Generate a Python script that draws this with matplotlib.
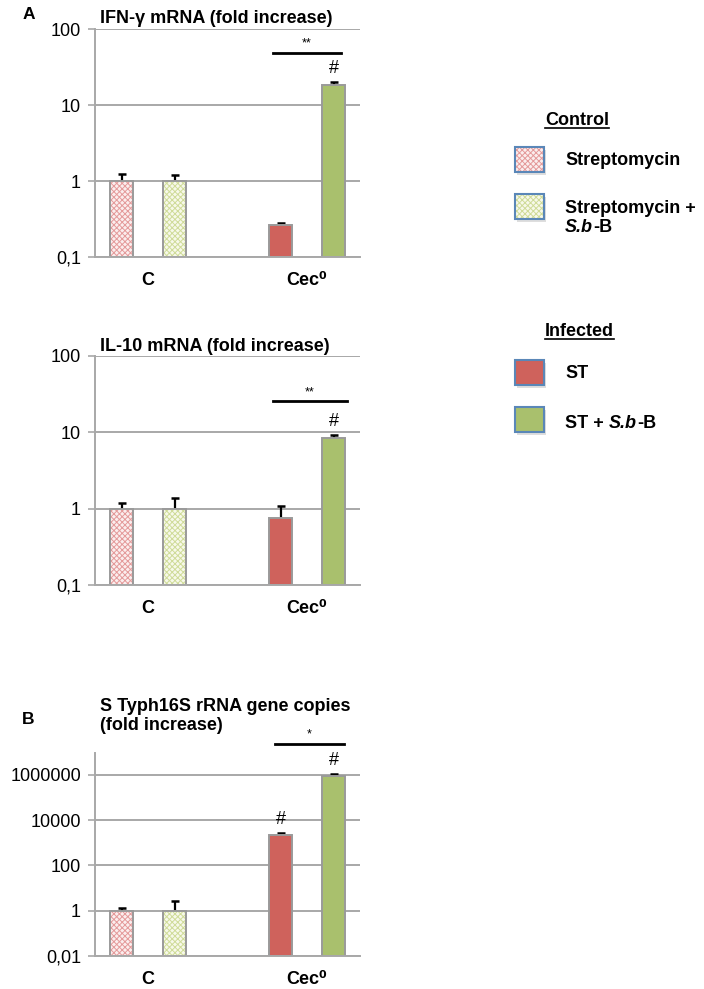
import numpy as np
import matplotlib.pyplot as plt
from matplotlib.patches import Rectangle
from matplotlib.lines import Line2D
from matplotlib.ticker import FixedLocator, FixedFormatter, NullLocator

plt.rcParams['font.family'] = ['Liberation Sans', 'DejaVu Sans']
plt.rcParams['hatch.linewidth'] = 0.7

W, H = 704, 989

# data
groups = ['C', 'Cec⁰']
series = ['Streptomycin', 'Streptomycin + S.b-B', 'ST', 'ST + S.b-B']
positions = [0, 1, 3, 4]

ifn_vals = [1.0, 1.0, 0.26, 18.3]
ifn_err = [0.23, 0.20, 0.02, 1.7]
il10_vals = [1.0, 1.0, 0.75, 8.5]
il10_err = [0.19, 0.38, 0.33, 0.75]
st_vals = [1.0, 1.0, 2180, 9.0e5]
st_err = [0.35, 1.76, 500, 2.0e5]

ifn_ticks = [0.1, 1, 10, 100]
ifn_ticklabels = ['0,1', '1', '10', '100']
st_ticks = [0.01, 1, 100, 10000, 1000000]
st_ticklabels = ['0,01', '1', '100', '10000', '1000000']

stars = ['**', '**', '*']
hash_bars = [[3], [3], [2, 3]]

# styles
red = '#cf625c'
green = '#a9c06d'
pink_fill = '#fbeeee'
lime_fill = '#f7f9ea'
pink_hatch = '#e49a9a'
lime_hatch = '#cfdb98'
edge_gray = '#9a9a9a'
grid_gray = '#a8a8a8'
legend_blue = '#5a87b8'
HATCH = 'xxxxxx'


def fx(x):
    return x / W


def fy(y):
    return 1 - y / H


fig = plt.figure(figsize=(W / 100, H / 100), dpi=100)


def draw_panel(rect, vals, errs, ticks, ticklabels, ylim, star, hashes,
               sig_x, sig_y, star_y):
    ax = fig.add_axes(rect)
    ax.set_yscale('log')
    ax.set_xlim(-0.5, 4.5)
    ax.set_ylim(*ylim)
    ax.set_axisbelow(True)

    fills = [pink_fill, lime_fill, red, green]
    hatches = [HATCH, HATCH, None, None]
    hcols = [pink_hatch, lime_hatch, red, green]
    for p, v, fc, hc, hcol in zip(positions, vals, fills, hatches, hcols):
        ax.bar(p, v - ylim[0], bottom=ylim[0], width=0.42, color=fc,
               hatch=hc, edgecolor=hcol, linewidth=0, zorder=2)
        ax.bar(p, v - ylim[0], bottom=ylim[0], width=0.42, color='none',
               edgecolor=edge_gray, linewidth=1.4, zorder=2.2)

    _, caps, _ = ax.errorbar(positions, vals,
                             yerr=[np.zeros(len(vals)), errs],
                             fmt='none', ecolor='black', elinewidth=1.6,
                             capsize=3, capthick=1.8, zorder=1.8)
    for c in caps:
        if np.allclose(c.get_ydata(), vals):
            c.set_visible(False)

    ax.yaxis.set_major_locator(FixedLocator(ticks))
    ax.yaxis.set_major_formatter(FixedFormatter(ticklabels))
    ax.yaxis.set_minor_locator(NullLocator())
    ax.tick_params(axis='y', length=5, width=1.2, color=grid_gray,
                   labelsize=13, pad=5)
    ax.grid(axis='y', color=grid_gray, linewidth=1.4)

    ax.set_xticks([0.5, 3.5])
    ax.set_xticklabels(groups, fontsize=13, fontweight='bold')
    ax.tick_params(axis='x', length=0, pad=11)

    for s in ['top', 'right']:
        ax.spines[s].set_visible(False)
    for s in ['left', 'bottom']:
        ax.spines[s].set_color(grid_gray)
        ax.spines[s].set_linewidth(1.4)

    trans = ax.get_xaxis_transform()
    ax.add_line(Line2D(sig_x, [sig_y, sig_y], color='black', linewidth=2,
                       transform=trans, clip_on=False))
    ax.text(np.mean(sig_x), star_y, star, transform=trans, ha='center',
            va='center', fontsize=9, clip_on=False)
    for i in hashes:
        ax.annotate('#', (positions[i], vals[i] + errs[i]),
                    xytext=(0, 10), textcoords='offset points',
                    ha='center', va='center', fontsize=13)
    return ax


draw_panel([fx(95), fy(257), 265 / W, 228 / H], ifn_vals, ifn_err,
           ifn_ticks, ifn_ticklabels, (0.1, 100), stars[0], hash_bars[0],
           [2.85, 4.15], 0.895, 0.935)
draw_panel([fx(95), fy(585), 265 / W, 229 / H], il10_vals, il10_err,
           ifn_ticks, ifn_ticklabels, (0.1, 100), stars[1], hash_bars[1],
           [2.85, 4.26], 0.803, 0.84)
draw_panel([fx(95), fy(956), 265 / W, 203 / H], st_vals, st_err,
           st_ticks, st_ticklabels, (0.01, 9.3e6), stars[2], hash_bars[2],
           [2.9, 4.2], 1.044, 1.09)

# titles and panel letters
fig.text(fx(100), fy(23), 'IFN-γ mRNA (fold increase)', fontsize=13,
         fontweight='bold', va='baseline')
fig.text(fx(100), fy(351), 'IL-10 mRNA (fold increase)', fontsize=13,
         fontweight='bold', va='baseline')
fig.text(fx(100), fy(711), 'S Typh16S rRNA gene copies', fontsize=13,
         fontweight='bold', va='baseline')
fig.text(fx(100), fy(730), '(fold increase)', fontsize=13,
         fontweight='bold', va='baseline')
fig.text(fx(23), fy(19), 'A', fontsize=12.5, fontweight='bold', va='baseline')
fig.text(fx(22), fy(724), 'B', fontsize=12.5, fontweight='bold', va='baseline')

# legend
renderer = fig.canvas.get_renderer()


def rich_text(x, y, pieces):
    for s, style in pieces:
        t = fig.text(fx(x), fy(y), s, fontsize=13, fontweight='bold',
                     fontstyle=style, va='baseline', ha='left')
        x += t.get_window_extent(renderer).width


def heading(x, y, s):
    t = fig.text(fx(x), fy(y), s, fontsize=13, fontweight='bold',
                 va='baseline', ha='left')
    w = t.get_window_extent(renderer).width
    fig.add_artist(Line2D([fx(x), fx(x + w)], [fy(y + 3), fy(y + 3)],
                          color='black', linewidth=1.2))


def swatch(y_top, fc, hatch=None, hcol=None):
    x0, w, h = 515, 29, 25
    fig.add_artist(Rectangle((fx(x0 + 2), fy(y_top + h + 3)), w / W, h / H,
                             facecolor='#c8c8c8', edgecolor='none', alpha=0.6))
    fig.add_artist(Rectangle((fx(x0), fy(y_top + h)), w / W, h / H,
                             facecolor=fc, hatch=hatch, edgecolor=hcol,
                             linewidth=0))
    fig.add_artist(Rectangle((fx(x0), fy(y_top + h)), w / W, h / H,
                             facecolor='none', edgecolor=legend_blue,
                             linewidth=1.5))


heading(545, 125, 'Control')
swatch(147, pink_fill, HATCH, pink_hatch)
rich_text(565, 165, [('Streptomycin', 'normal')])
swatch(194, lime_fill, HATCH, lime_hatch)
rich_text(565, 213, [('Streptomycin +', 'normal')])
rich_text(565, 232, [('S.b', 'italic'), ('-B', 'normal')])

heading(545, 336, 'Infected')
swatch(360, red, None, red)
rich_text(565, 378, [('ST', 'normal')])
swatch(407, green, None, green)
rich_text(565, 428, [('ST + ', 'normal'), ('S.b', 'italic'), ('-B', 'normal')])

plt.savefig('out.png', dpi=100)
